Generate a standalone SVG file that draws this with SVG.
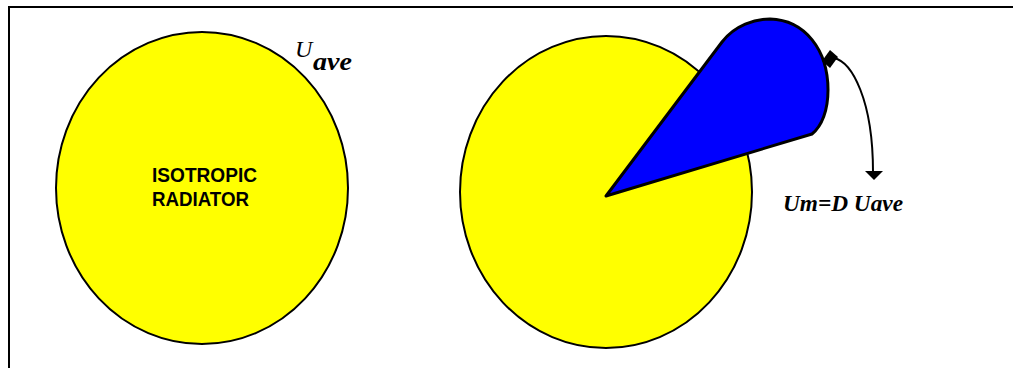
<svg xmlns="http://www.w3.org/2000/svg" width="1013" height="368" viewBox="0 0 1013 368">
<style>
.sphere{fill:#ffff00;stroke:#000;stroke-width:2}
.lobe{fill:#0000ff;stroke:#000;stroke-width:3;stroke-linejoin:round}
.lbl{font-family:"Liberation Sans",Arial,sans-serif;font-weight:bold;font-size:20px;fill:#000}
.math{font-family:"Liberation Serif","Times New Roman",serif;font-style:italic;fill:#000}
.conn{fill:none;stroke:#000;stroke-width:2}
.head{fill:#000;stroke:none}
</style>
<rect width="1013" height="368" fill="#fff"/>
<path d="M9,368 V7 H1013" fill="none" stroke="#000" stroke-width="2"/>
<g id="isotropic">
<ellipse class="sphere" cx="202" cy="188" rx="146" ry="156"/>
<text class="lbl" x="152" y="182" textLength="105" lengthAdjust="spacingAndGlyphs">ISOTROPIC</text>
<text class="lbl" x="152" y="206" textLength="97" lengthAdjust="spacingAndGlyphs">RADIATOR</text>
<text class="math" x="295" y="57" font-size="24">U</text>
<text class="math" x="313" y="70" font-size="26" font-weight="bold" textLength="39" lengthAdjust="spacingAndGlyphs">ave</text>
</g>
<g id="directional">
<ellipse class="sphere" cx="606" cy="192" rx="146" ry="156"/>
<path class="lobe" d="M606,196 L722,42 C735,25 755,19 770,19 C805,20 828,50 828,90 C828,110 822,126 812,134 Z"/>
</g>
<g id="connectors">
<path class="conn" d="M834,58 C852,62 873,100 873,172"/>
<polygon class="head" points="830,50 838,57 830,68 822,61"/>
<polygon class="head" points="865,171 883,171 874,180"/>
</g>
<g id="label-um">
<text class="math" x="783" y="211" font-size="23" font-weight="bold" textLength="120" lengthAdjust="spacingAndGlyphs">Um=D Uave</text>
</g>
</svg>
